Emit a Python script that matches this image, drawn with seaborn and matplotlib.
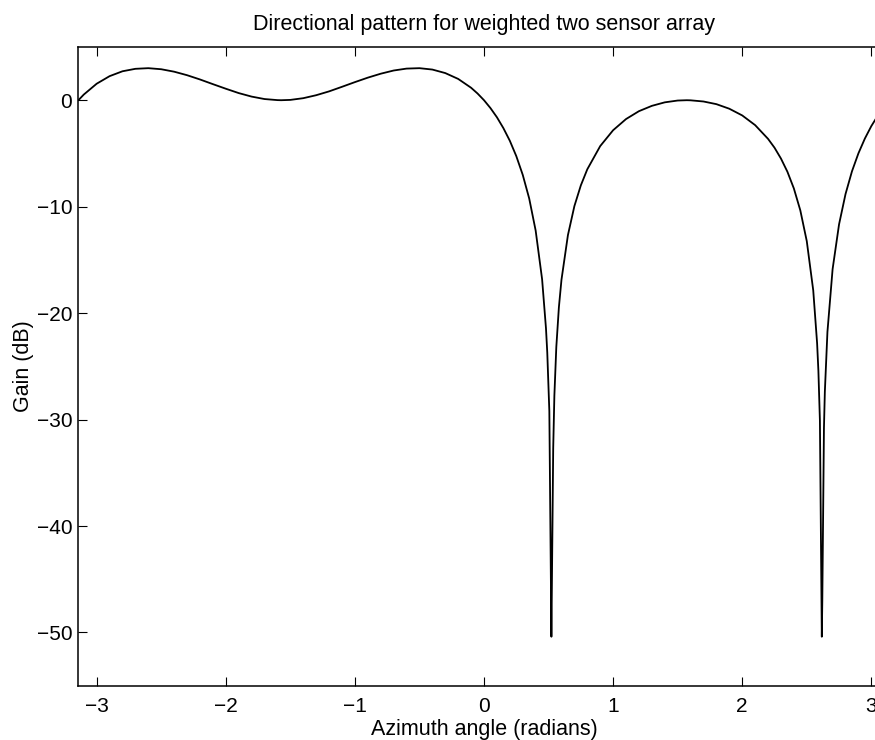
import matplotlib
matplotlib.use("Agg")
import matplotlib.pyplot as plt
import seaborn as sns
import pandas as pd

# Azimuth angle (radians) and gain (dB) of the weighted two-sensor array
azimuth = [
    -3.1416, -3.1, -3.0, -2.9, -2.8, -2.7, -2.6, -2.5, -2.4, -2.3, -2.2, -2.1,
    -2.0, -1.9, -1.8, -1.7, -1.6, -1.5708, -1.5, -1.4, -1.3, -1.2, -1.1, -1.0,
    -0.9, -0.8, -0.7, -0.6, -0.5, -0.4, -0.3, -0.2, -0.1, -0.05, 0.0, 0.05,
    0.1, 0.15, 0.2, 0.25, 0.3, 0.35, 0.4, 0.45, 0.48, 0.49, 0.506, 0.522,
    0.527, 0.536, 0.545, 0.56, 0.58, 0.6, 0.65, 0.7, 0.75, 0.8, 0.9, 1.0,
    1.1, 1.2, 1.3, 1.4, 1.5, 1.5708, 1.6, 1.7, 1.8, 1.9, 2.0, 2.1, 2.2,
    2.25, 2.3, 2.35, 2.4, 2.45, 2.5, 2.55, 2.58, 2.59, 2.6017, 2.6164,
    2.6203, 2.633, 2.64, 2.66, 2.7, 2.75, 2.8, 2.85, 2.9, 2.95, 3.0, 3.05,
    3.1, 3.1416,
]
gain_db = [
    0.0, 0.53, 1.55, 2.26, 2.72, 2.95, 3.01, 2.91, 2.68, 2.35, 1.95, 1.51,
    1.08, 0.67, 0.34, 0.11, 0.01, 0.0, 0.03, 0.19, 0.47, 0.83, 1.26, 1.70,
    2.12, 2.49, 2.79, 2.97, 3.01, 2.88, 2.55, 2.00, 1.17, 0.63, 0.0, -0.74,
    -1.60, -2.62, -3.81, -5.25, -7.01, -9.23, -12.24, -16.82, -21.43, -23.71, -29.2, -50.4,
    -44.0, -32.7, -27.76, -23.19, -19.45, -16.87, -12.67, -9.95, -8.00, -6.49, -4.31, -2.82,
    -1.77, -1.03, -0.53, -0.20, -0.03, 0.0, -0.01, -0.12, -0.37, -0.80, -1.43, -2.34, -3.63,
    -4.46, -5.48, -6.72, -8.29, -10.35, -13.24, -17.86, -22.83, -25.43, -30.1, -50.4,
    -47.0, -30.8, -27.38, -21.76, -15.87, -11.66, -8.82, -6.68, -4.99, -3.60, -2.43, -1.45,
    -0.61, 0.0,
]

x_ticks = [-3, -2, -1, 0, 1, 2, 3]
y_ticks = [-50, -40, -30, -20, -10, 0]

pattern = pd.DataFrame({"azimuth": azimuth, "gain": gain_db})

sns.set_theme(style="ticks", rc={
    "xtick.direction": "in",
    "ytick.direction": "in",
    "xtick.top": True,
    "ytick.right": True,
})
plt.rcParams["font.family"] = ["Liberation Sans", "DejaVu Sans"]
plt.rcParams["axes.unicode_minus"] = True

fig = plt.figure(figsize=(8.75, 7.4), dpi=100)
# the axes run from -pi to pi; its right edge lies just past the figure border
ax = fig.add_axes([0.0896, 0.0734, 0.9271, 0.8631])

sns.lineplot(data=pattern, x="azimuth", y="gain", ax=ax, color="black",
             linewidth=1.3, estimator=None, sort=False)

ax.set_xlim(-3.14159, 3.14159)
ax.set_ylim(-55, 5)
ax.set_xticks(x_ticks)
ax.set_yticks(y_ticks)
ax.tick_params(axis="both", which="major", length=6.5, width=0.8,
               labelsize=15, colors="black", top=True, right=True)
ax.tick_params(axis="x", pad=8)
ax.tick_params(axis="y", pad=4.5)
for spine in ax.spines.values():
    spine.set_linewidth(1.1)
    spine.set_color("black")

ax.set_title("Directional pattern for weighted two sensor array",
             fontsize=15.5, pad=12, color="black")
ax.set_xlabel("Azimuth angle (radians)", fontsize=15.5, labelpad=2, color="black")
ax.set_ylabel("Gain (dB)", fontsize=15.5, labelpad=1.5, color="black")

fig.savefig("out.png", dpi=100)
